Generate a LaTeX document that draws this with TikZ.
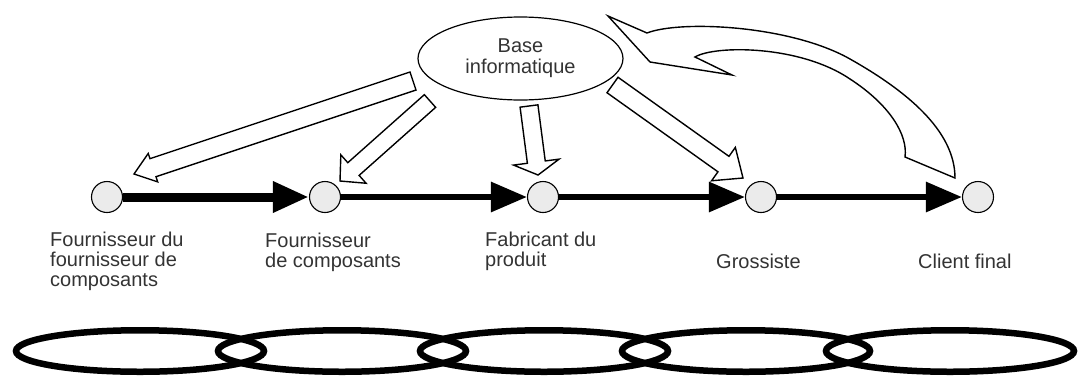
\documentclass[tikz,border=0pt]{standalone}
\usepackage{fontspec}
\setmainfont{Liberation Sans}
\usetikzlibrary{shapes.geometric,arrows.meta,calc}

%% hollow block arrow: tail, tip, shaft half width, head half width, head length
\newcommand{\blockarrow}[5]{%
  \coordinate (bh) at ($(#2)!#5!(#1)$);
  \draw[block] ($(#1)!#3!90:(#2)$) -- ($(bh)!#3!90:(#2)$) -- ($(bh)!#4!90:(#2)$) -- (#2)
    -- ($(bh)!#4!-90:(#2)$) -- ($(bh)!#3!-90:(#2)$) -- ($(#1)!#3!-90:(#2)$) -- cycle;
}

\begin{document}
\begin{tikzpicture}[x=1pt,y=-1pt,
    station/.style={draw,circle,fill=black!8,line width=1.1pt,minimum size=31pt,inner sep=0pt},
    flow/.style={-{Triangle[length=36pt,width=29pt]},line width=6pt},
    stage/.style={anchor=base west,align=left,inner sep=0pt,text=black!80,font=\fontsize{20}{20}\selectfont},
    link/.style={draw,ellipse,line width=6.5pt,minimum width=248pt,minimum height=41.5pt,inner sep=0pt},
    block/.style={draw,fill=white,line width=1.4pt,line join=miter}]
    \useasboundingbox (0,0) rectangle (1081,381);
    %% database
    \node[draw,ellipse,line width=1.2pt,minimum width=205pt,minimum height=83pt,align=center,
          text=black!80,font=\fontsize{20}{21}\selectfont] (info) at (520.5,58.5) {Base\\informatique};
    %% chain members
    \node[station] (c1) at (107,197) {};
    \node[station] (c2) at (325,197) {};
    \node[station] (c3) at (543,197) {};
    \node[station] (c4) at (761,197) {};
    \node[station] (c5) at (978,197) {};
    \draw[flow,line width=9pt] (c1) -- (c2);
    \draw[flow] (c2) -- (c3);
    \draw[flow] (c3) -- (c4);
    \draw[flow] (c4) -- (c5);
    %% names (base = last line)
    \node[stage] (n1) at (50,286) {Fournisseur du\\fournisseur de\\composants};
    \node[stage] (n2) at (265,267) {Fournisseur\\de composants};
    \node[stage] (n3) at (485,266) {Fabricant du\\produit};
    \node[stage] (n4) at (716,268) {Grossiste};
    \node[stage] (n5) at (918,268) {Client final};
    %% information arrows
    \coordinate (s1) at (413,81);   \coordinate (t1) at (134,174);
    \coordinate (s2) at (430,101);  \coordinate (t2) at (340,181);
    \coordinate (s3) at (529,106);  \coordinate (t3) at (538,175);
    \coordinate (s4) at (612.5,85); \coordinate (t4) at (743,178);
    \blockarrow{s1}{t1}{9.5pt}{15pt}{20pt}
    \blockarrow{s2}{t2}{8.5pt}{19pt}{18pt}
    \blockarrow{s3}{t3}{9pt}{23pt}{13pt}
    \blockarrow{s4}{t4}{9.5pt}{20.5pt}{24pt}
    %% feedback arrow
    \draw[block] (608,16) -- (647,33) .. controls (680,20) and (790,25) .. (850,59)
        .. controls (905,90) and (955,130) .. (955,178) -- (905,157)
        .. controls (908,135) and (890,105) .. (850,79)
        .. controls (800,45) and (715,45) .. (695,57) -- (732,75) -- (650,62) -- cycle;
    %% chain links
    \foreach \i/\x in {1/140,2/342,3/544,4/746,5/950}
        \node[link] (k\i) at (\x,351) {};
\end{tikzpicture}
\end{document}
